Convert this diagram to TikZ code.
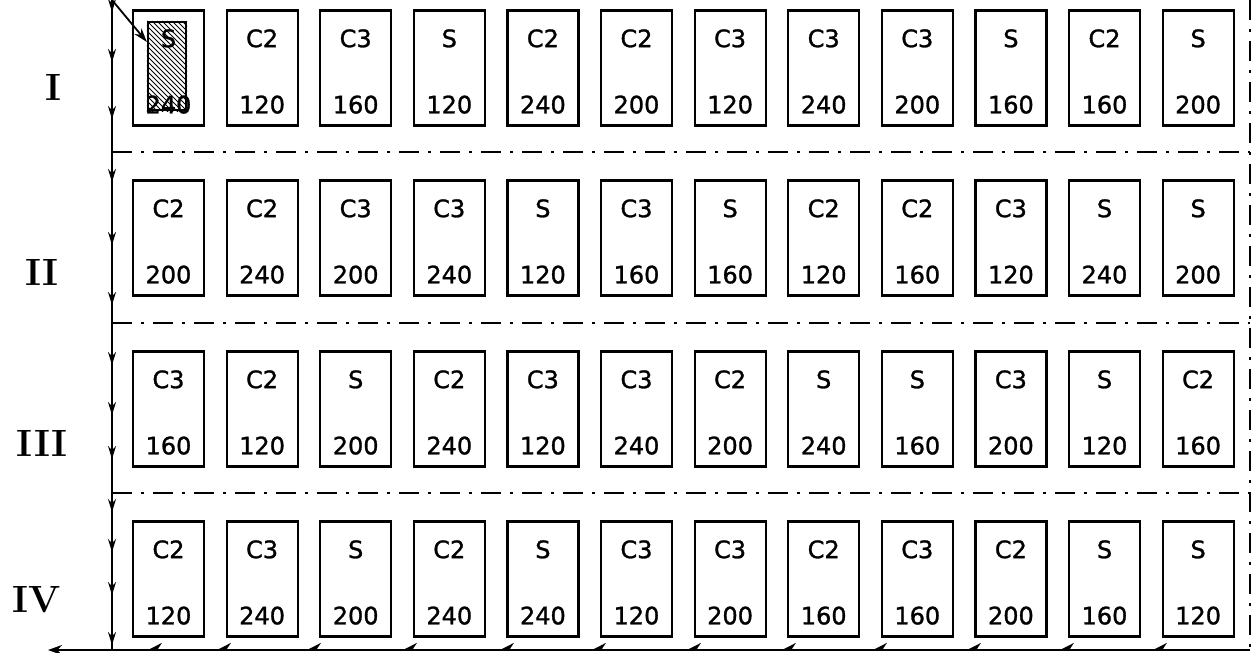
\documentclass[tikz,border=0pt]{standalone}
\usepackage{fontspec}
\newfontfamily\labfont[FakeBold=1.2]{DejaVu Sans}
\usetikzlibrary{arrows.meta,decorations.markings}
\begin{document}
\begin{tikzpicture}[x=1pt,y=-1pt,
  plotbox/.style={draw, line width=2.2pt, minimum width=71pt, minimum height=115pt, inner sep=0pt},
  hatchbox/.style={draw, line width=2.2pt, minimum width=38pt, minimum height=88pt, inner sep=0pt},
  lab/.style={font=\labfont\fontsize{24}{24}\selectfont, inner sep=0pt},
  rom/.style={font=\fontsize{38}{38}\selectfont\bfseries, inner sep=0pt},
  dashdot/.style={line width=1.8pt, dash pattern=on 20pt off 9pt on 3pt off 9pt},
  flow/.style={line width=1.8pt},
  flowtip/.tip={Stealth[length=13pt,width=8pt]},
  bottip/.tip={Stealth[length=14pt,width=14pt,harpoon,swap]}]
\useasboundingbox (0,0) rectangle (1253,653);

% frame coordinates
\coordinate (tl) at (112,0);
\coordinate (bl) at (112,650);
\coordinate (tr) at (1250,0);
\coordinate (br) at (1250,650);
\coordinate (bend) at (48,650);
\foreach \i/\yy in {1/152,2/323,3/493}{
  \coordinate (d\i l) at (112,\yy);
  \coordinate (d\i r) at (1250,\yy);
  \draw[dashdot] (d\i l) -- (d\i r);
}
\draw[dashdot] (tr) -- (br);

% left flow line with down arrows
\draw[flow, postaction={decorate}, decoration={markings,
  mark=at position 12pt with {\arrow{flowtip}},
  mark=at position 62pt with {\arrow{flowtip}},
  mark=at position 119pt with {\arrow{flowtip}},
  mark=at position 182pt with {\arrow{flowtip}},
  mark=at position 245pt with {\arrow{flowtip}},
  mark=at position 305pt with {\arrow{flowtip}},
  mark=at position 365pt with {\arrow{flowtip}},
  mark=at position 415pt with {\arrow{flowtip}},
  mark=at position 459pt with {\arrow{flowtip}},
  mark=at position 512pt with {\arrow{flowtip}},
  mark=at position 552pt with {\arrow{flowtip}},
  mark=at position 595pt with {\arrow{flowtip}},
  mark=at position 645pt with {\arrow{flowtip}}}] (tl) -- (bl);

% bottom flow line with left arrows
\draw[flow, -{Stealth[length=14pt,width=10pt]}, postaction={decorate}, decoration={markings,
  mark=at position 99pt with {\arrow{bottip}},
  mark=at position 192pt with {\arrow{bottip}},
  mark=at position 285pt with {\arrow{bottip}},
  mark=at position 379pt with {\arrow{bottip}},
  mark=at position 470pt with {\arrow{bottip}},
  mark=at position 565pt with {\arrow{bottip}},
  mark=at position 660pt with {\arrow{bottip}},
  mark=at position 752pt with {\arrow{bottip}},
  mark=at position 849pt with {\arrow{bottip}},
  mark=at position 945pt with {\arrow{bottip}},
  mark=at position 1035pt with {\arrow{bottip}},
  mark=at position 1104pt with {\arrow{bottip}}}] (br) -- (bend);

% row labels
\node[rom] (r1) at (53,87) {I};
\node[rom] (r2) at (42,272) {II};
\node[rom] (r3) at (42,443) {III};
\node[rom] (r4) at (37,600) {IV};

% plots
\foreach \r/\yc/\row in {
  1/68/{S/240,C2/120,C3/160,S/120,C2/240,C2/200,C3/120,C3/240,C3/200,S/160,C2/160,S/200},
  2/238/{C2/200,C2/240,C3/200,C3/240,S/120,C3/160,S/160,C2/120,C2/160,C3/120,S/240,S/200},
  3/409/{C3/160,C2/120,S/200,C2/240,C3/120,C3/240,C2/200,S/240,S/160,C3/200,S/120,C2/160},
  4/579/{C2/120,C3/240,S/200,C2/240,S/240,C3/120,C3/200,C2/160,C3/160,C2/200,S/160,S/120}}{
  \foreach \t/\n [count=\c] in \row {
    \pgfmathsetmacro\xc{168.5+93.6*(\c-1)}
    \node[plotbox] (b-\r-\c) at (\xc,\yc) {};
    \ifnum\r=1 \ifnum\c=1
      \node[hatchbox] (h) at (167,66) {};
      \begin{scope}
        \clip (h.north west) rectangle (h.south east);
        \foreach \k in {-100,-95,...,45}
          \draw[line width=0.8pt] ([xshift=\k pt]h.north west) -- ++(100,100);
      \end{scope}
      \node[hatchbox] at (h) {};
    \fi\fi
    \node[lab] (t-\r-\c) at ([yshift=-29pt]b-\r-\c.north) {\t};
    \node[lab] (n-\r-\c) at ([yshift=22pt]b-\r-\c.south) {\n};
  }
}

% pointer to the hatched plot
\draw[flow, -{Stealth[length=14pt,width=9pt]}] (tl) -- ([yshift=24pt]h.west);
\end{tikzpicture}
\end{document}
